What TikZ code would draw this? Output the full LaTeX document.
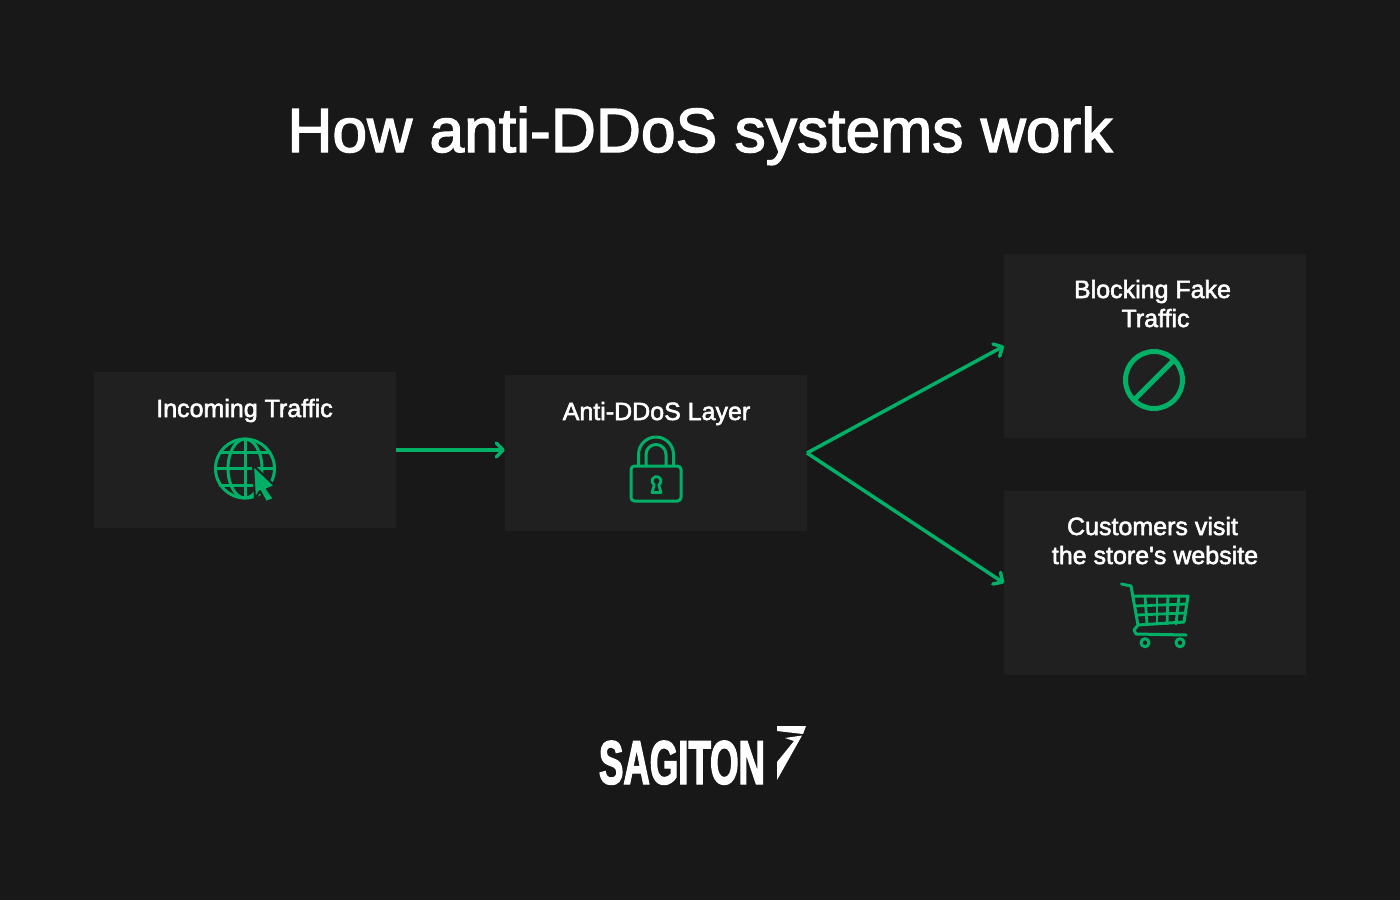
\documentclass[tikz,border=0pt]{standalone}
\usepackage{fontspec}
\setmainfont{Liberation Sans}[Ligatures={NoCommon,TeXOff},RawFeature={embolden=2.2}]
\newfontfamily\logofont{Liberation Sans Bold}[FakeStretch=0.59,RawFeature={embolden=2}]
\usetikzlibrary{arrows.meta}
\definecolor{bgdark}{HTML}{181818}
\definecolor{boxdark}{HTML}{202020}
\definecolor{leaf}{HTML}{00B067}
\tikzset{
  panel/.style={fill=boxdark,minimum width=302pt,outer sep=0pt,inner sep=0pt},
  label/.style={text=white,font=\fontsize{25}{29}\selectfont,inner sep=0pt,anchor=base},
  link/.style={draw=leaf,line width=3.5pt,-{Straight Barb[length=7pt,width=14pt,line width=3.5pt,round]}},
  icon/.style={draw=leaf,line width=3pt,line join=round,line cap=round}
}
\begin{document}
\begin{tikzpicture}[x=1pt,y=-1pt]
   \fill[bgdark] (0,0) rectangle (1400,900);
   \useasboundingbox (0,0) rectangle (1400,900);
   \node[text=white,font=\fontsize{62.4}{70}\selectfont,inner sep=0pt,anchor=base] (title) at (700,152) {How anti-DDoS systems work};

   \node[panel,minimum height=156pt] (incoming) at (245,450) {};
   \node[panel,minimum height=156pt] (layer) at (656,453) {};
   \node[panel,minimum height=184pt] (blocking) at (1155,346) {};
   \node[panel,minimum height=184pt] (customers) at (1155,583) {};

   \node[label] (incomingtext) at (244.5,417) {Incoming Traffic};
   \node[label] (layertext) at (656.5,420) {Anti-DDoS Layer};
   \node[label] (blockingtext) at (1152.5,298) {Blocking Fake};
   \node[label] (blockingtextb) at (1155.5,327) {Traffic};
   \node[label] (customerstext) at (1152.5,535) {Customers visit};
   \node[label] (customerstextb) at (1155,564) {the store's website};

   \draw[link] (incoming.east) -- (layer.west |- incoming.east);
   \draw[link] (layer.east) -- (blocking.west);
   \draw[link] (layer.east) -- (customers.west);

   \draw[icon] (245,468.5) circle (29.5);
   \draw[icon] (245,468.5) ellipse (17 and 29.5);
   \draw[icon] (245,439) -- (245,498);
   \draw[icon] (215.5,468.5) -- (274.5,468.5);
   \draw[icon] (220,452) -- (270,452);
   \draw[icon] (220,485) -- (270,485);
   \draw[draw=boxdark,fill=leaf,line width=2pt,line join=round] (253,465) -- (275,486) -- (267,489) -- (274,499) -- (266,502) -- (260,491) -- (255,499) -- cycle;

   \draw[icon,rounded corners=3.5pt] (631,466) rectangle (681,501);
   \draw[icon] (638.5,465.5) -- (638.5,454.5) arc (180:360:17.5) -- (673.5,465.5);
   \draw[icon] (646,465.5) -- (646,454.5) arc (180:360:10) -- (666,465.5);
   \draw[icon,line width=2.8pt] (652,492.5) -- (654.25,484.9) arc (120:420:4.5) -- (661,492.5) -- cycle;

   \draw[icon] (1121.5,584) -- (1131,586) -- (1138,625) -- (1134,630) -- (1136,634) -- (1186,635);
   \draw[icon] (1133,596) -- (1188,596) -- (1184,622) -- (1138,625);
   \draw[icon,line width=2.8pt] (1135,606) -- (1186,604);
   \draw[icon,line width=2.8pt] (1137,615) -- (1185,613);
   \foreach \xa/\xb in {1145/1147,1157/1157,1168/1167,1179/1176}
     \draw[icon,line width=2.8pt] (\xa,596) -- (\xb,624);
   \draw[icon] (1145,642.7) circle (4);
   \draw[icon] (1180,642.7) circle (4);

   \draw[icon,line width=5pt] (1154,380) circle (28.5);
   \draw[icon,line width=5pt,line cap=butt] (1134,400) -- (1174,360);

   \node[text=white,font=\logofont\fontsize{62}{70}\selectfont,inner sep=0pt,anchor=base] (logo) at (682,784) {SAGITON};
   \fill[white] (777,726) -- (806,726) -- (803,734) -- (777,731) -- cycle;
   \fill[white] (785,738) -- (802,735.5) -- (777,780) -- (777,762) -- (794,741) -- cycle;
\end{tikzpicture}
\end{document}
